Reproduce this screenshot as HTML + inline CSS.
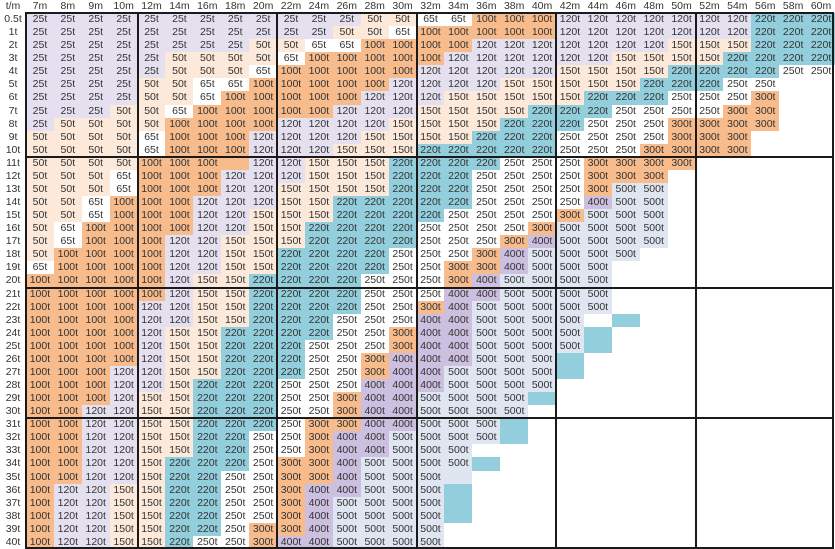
<!DOCTYPE html>
<html><head><meta charset="utf-8">
<style>
html,body{margin:0;padding:0;background:#fff;}
#grid{position:relative;width:835px;height:549px;overflow:hidden;font-family:"Liberation Sans",sans-serif;font-size:10.5px;color:#333;}
.c{position:absolute;box-sizing:border-box;border-right:1px solid #d4d4d4;border-bottom:1px solid #d4d4d4;text-align:center;white-space:nowrap;overflow:hidden;}
.h{background:#fff;color:#333;}
.tl{position:absolute;background:#1a1a1a;}
</style></head>
<body>
<div id="grid"></div>
<script>
const colLabels=["7m","8m","9m","10m","12m","14m","16m","18m","20m","22m","24m","26m","28m","30m","32m","34m","36m","38m","40m","42m","44m","46m","48m","50m","52m","54m","56m","58m","60m"];
const rowLabels=["0.5t","1t","2t","3t","4t","5t","6t","7t","8t","9t","10t","11t","12t","13t","14t","15t","16t","17t","18t","19t","20t","21t","22t","23t","24t","25t","26t","27t","28t","29t","30t","31t","32t","33t","34t","35t","36t","37t","38t","39t","40t"];
const rowValues=[
"25 25 25 25 25 25 25 25 25 25 25 25 50 50 65 65 100 100 100 120 120 120 120 120 120 120 220 220 220",
"25 25 25 25 25 25 25 25 25 25 25 50 50 65 100 100 100 100 100 120 120 120 120 120 120 120 220 220 220",
"25 25 25 25 25 25 25 25 50 50 65 65 100 100 100 100 120 120 120 120 120 120 120 150 150 150 220 220 220",
"25 25 25 25 25 50 50 50 50 65 100 100 100 100 100 120 120 120 120 120 120 150 150 150 150 220 220 220 220",
"25 25 25 25 25 50 50 50 65 100 100 100 100 100 120 120 120 120 120 150 150 150 150 220 220 220 220 250 250",
"25 25 25 25 50 50 65 65 100 100 100 100 100 120 120 120 120 150 150 150 150 150 220 220 220 250 250",
"25 25 25 25 50 50 65 100 100 100 100 100 120 120 120 150 150 150 150 150 220 220 220 250 250 250 300",
"25 25 25 50 50 65 100 100 100 100 100 120 120 120 150 150 150 150 220 220 220 250 250 250 250 300 300",
"25 50 50 50 50 100 100 100 100 120 120 120 120 150 150 150 150 220 220 220 250 250 250 300 300 300 300",
"50 50 50 50 65 100 100 100 120 120 120 120 150 150 150 150 220 220 220 250 250 250 250 300 300 300",
"50 50 50 50 65 100 100 100 120 120 120 150 150 150 220 220 220 220 220 250 250 250 300 300 300 300",
"50 50 50 50 100 100 100 O 120 120 150 150 150 220 220 220 220 250 250 250 300 300 300 300",
"50 50 50 65 100 100 100 120 120 120 150 150 150 220 220 220 250 250 250 250 300 300 300",
"50 50 50 65 100 100 100 120 120 150 150 150 150 220 220 220 250 250 250 250 300 500 500",
"50 50 65 100 100 100 120 120 120 150 150 220 220 220 220 220 250 250 250 250 400 500 500",
"50 50 65 100 100 100 120 120 150 150 150 220 220 220 220 250 250 250 250 300 500 500 500",
"50 65 100 100 100 100 120 120 150 150 220 220 220 220 250 250 250 250 300 500 500 500 500",
"50 65 100 100 100 120 120 150 150 150 220 220 220 220 250 250 250 300 400 500 500 500 500",
"50 100 100 100 100 120 120 150 150 220 220 220 220 250 250 250 300 400 500 500 500 500",
"65 100 100 100 100 120 120 150 150 220 220 220 220 250 250 300 300 400 500 500 500",
"100 100 100 100 100 120 150 150 220 220 220 220 250 250 250 300 400 500 500 500 500",
"100 100 100 100 100 120 150 150 220 220 220 220 250 250 250 400 400 500 500 500 500",
"100 100 100 100 120 120 150 150 220 220 220 220 250 250 300 400 500 500 500 500 500",
"100 100 100 100 120 120 150 150 220 220 220 250 250 250 400 400 500 500 500 500 _ T",
"100 100 100 100 120 150 150 220 220 220 220 250 250 300 400 400 500 500 500 500 T",
"100 100 100 100 120 150 150 220 220 220 250 250 250 300 400 400 500 500 500 500 T",
"100 100 100 100 120 150 150 220 220 220 250 250 300 400 400 400 500 500 500 T",
"100 100 100 120 120 150 150 220 220 220 250 250 300 400 400 500 500 500 500 T",
"100 100 100 120 120 150 220 220 220 250 250 250 400 400 400 500 500 500 500",
"100 100 100 120 150 150 220 220 220 250 250 300 400 400 500 500 500 500 T",
"100 100 120 120 150 150 220 220 220 250 250 300 400 400 500 500 500 500",
"100 100 120 120 150 150 220 220 220 250 300 300 400 400 500 500 500 T",
"100 100 120 120 150 150 220 220 250 250 300 400 400 500 500 500 500 T",
"100 100 120 120 150 150 220 220 250 250 300 400 400 500 500 500",
"100 100 120 120 150 220 220 220 250 300 300 400 500 500 500 500 T",
"100 100 120 120 150 220 220 250 250 300 300 400 500 500 500 L",
"100 120 120 150 150 220 220 250 250 300 400 400 500 500 500 T",
"100 120 120 150 150 220 220 250 250 300 400 500 500 500 500 T",
"100 120 120 150 150 220 220 250 250 300 400 500 500 500 500 T",
"100 120 120 150 150 220 220 250 300 300 400 500 500 500 500",
"100 120 120 150 150 220 250 250 300 400 400 500 500 500 500"
];
const colors={"25":"#e5e0ef","50":"#fde9d9","65":"#ffffff","100":"#f7bb8c","120":"#e5e0ef","150":"#fde9d9","220":"#93cedd","250":"#ffffff","300":"#f7bb8c","400":"#ccbfdf","500":"#dfe5f1","T":"#93cedd","O":"#f7bb8c","L":"#dfe5f1","_":"#ffffff"};
const grid=document.getElementById('grid');
const X0=26, CW=(835-26)/29, HH=13, RH=(549-13)/41;
function xAt(i){return i<0?0:X0+i*CW;}
function yAt(r){return r<0?0:HH+r*RH;}
function cell(x,y,w,h,txt,bg,cls){
  const d=document.createElement('div');
  d.className='c '+(cls||'');
  d.style.left=x+'px';d.style.top=y+'px';d.style.width=(w+1)+'px';d.style.height=(h+1)+'px';
  d.style.lineHeight=h+'px';d.style.background=bg;d.textContent=txt;
  grid.appendChild(d);return d;
}
let hd=cell(0,0,X0,HH,"t/m","#fff","h");


colLabels.forEach((c,i)=>{
  const d=cell(xAt(i),0,CW,HH,c,"#fff","h");
  
  
});
rowLabels.forEach((r,ri)=>{
  const d=cell(0,yAt(ri),X0,RH,r,"#fff","h");
  
  
  const vals=rowValues[ri].split(' ');
  for(let ci=0;ci<29;ci++){
    const v=vals[ci];
    let txt='',bg='#fff';
    if(v!==undefined){bg=colors[v]||'#fff';if(/^\d+$/.test(v))txt=v+'t';}
    const e=cell(xAt(ci),yAt(ri),CW,RH,txt,bg);
    
    
  }
});
// thick group borders
[0,4,9,14,19,24,29].forEach(i=>{
  const l=document.createElement('div');l.className='tl';
  let x=xAt(i);if(i===29)x=833;
  l.style.left=(x-1)+'px';l.style.top=HH+'px';l.style.width='2px';l.style.height=(549-HH)+'px';
  
  
  grid.appendChild(l);
});
[0,11,21,31,41].forEach(r=>{
  const l=document.createElement('div');l.className='tl';
  let y=yAt(r);if(r===41)y=548;
  l.style.left=X0-1+'px';l.style.top=(y-1)+'px';l.style.width=(835-X0)+'px';l.style.height='2px';
  
  
  grid.appendChild(l);
});
</script>
</body></html>
